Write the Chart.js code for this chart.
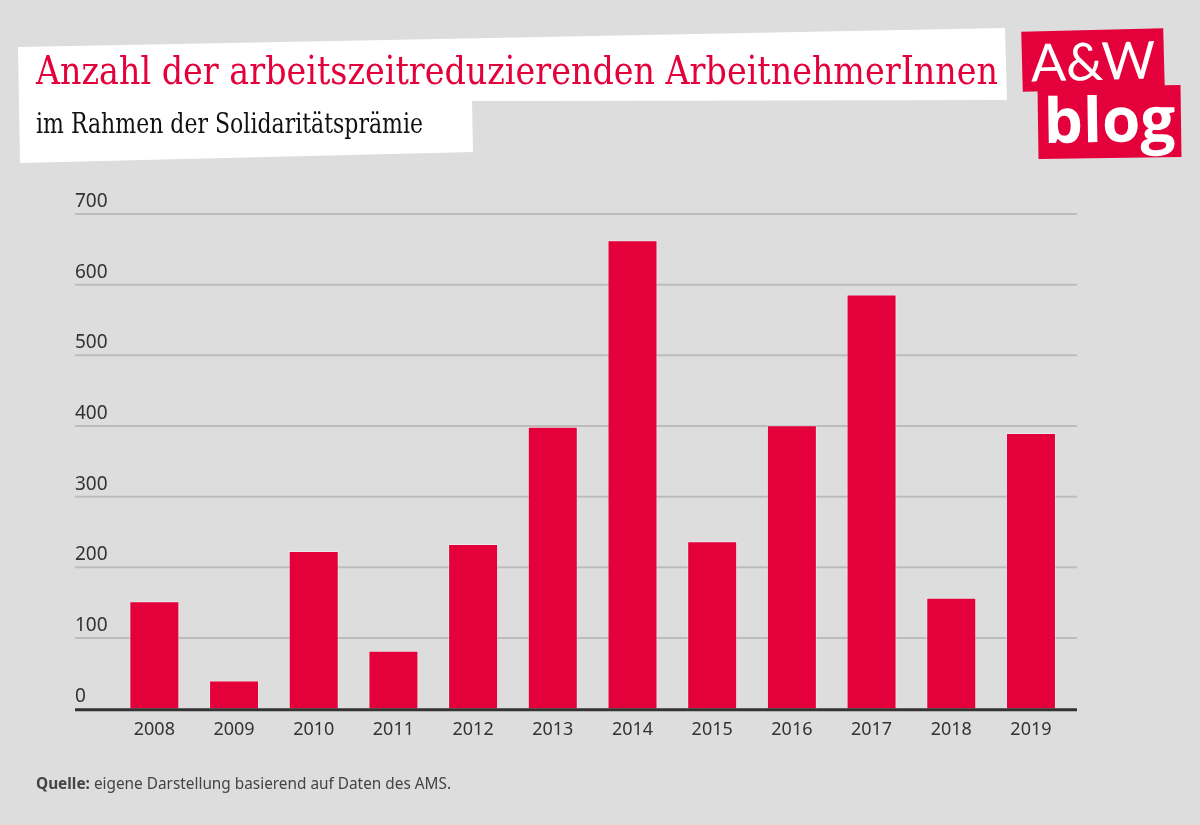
<!DOCTYPE html>
<html>
<head>
<meta charset="utf-8">
<script src="https://cdn.jsdelivr.net/npm/chart.js@4"></script>
<style>
  html, body { margin: 0; padding: 0; }
  body { width: 1200px; height: 825px; background: #dddddd; position: relative; overflow: hidden; }
  #chartCanvas { position: absolute; left: 0; top: 0; }
  .band {
    position: absolute; left: 0; top: 0; width: 1200px; height: 200px; background: #ffffff;
    clip-path: polygon(18px 47px, 1005px 28px, 1007px 100px, 472px 101px, 473px 152px, 20px 163px);
  }
  .fit { position: absolute; white-space: nowrap; transform-origin: 0 0; }
  #title { left: 36px; top: 48px; font-family: "DejaVu Serif", serif; font-size: 39px; color: #e4003a; }
  #subtitle { left: 36px; top: 107px; font-family: "DejaVu Serif", serif; font-size: 28px; color: #111; }
  .logo { position: absolute; background: #e4003a; color: #fff; text-align: center; }
  #logoTop { left: 1022px; top: 30px; width: 142px; height: 60px; transform: rotate(-1.5deg);
    font-family: "Lato", sans-serif; font-size: 52px; line-height: 60px; font-weight: 400; }
  #logoBottom { left: 1038px; top: 86px; width: 143px; height: 72px; transform: rotate(-0.8deg);
    font-family: "Open Sans", sans-serif; font-size: 62px; line-height: 64px; font-weight: 700; }
  #source { left: 36px; top: 772px; font-family: "Noto Sans", sans-serif; font-size: 15.5px; color: #444; }
</style>
</head>
<body>
<canvas id="chartCanvas" width="1200" height="825"></canvas>
<div class="band"></div>
<div id="title" class="fit">Anzahl der arbeitszeitreduzierenden ArbeitnehmerInnen</div>
<div id="subtitle" class="fit">im Rahmen der Solidaritätsprämie</div>
<div id="logoTop" class="logo">A&amp;W</div>
<div id="logoBottom" class="logo">blog</div>
<div id="source" class="fit"><b>Quelle:</b> eigene Darstellung basierend auf Daten des AMS.</div>
<script>
const jahre = ["2008", "2009", "2010", "2011", "2012", "2013", "2014", "2015", "2016", "2017", "2018", "2019"];
const anzahl = [152, 40, 223, 82, 233, 399, 663, 237, 401, 586, 157, 390];
const yTicks = [0, 100, 200, 300, 400, 500, 600, 700];

// fit header text to the widths in the original
function fitText(id, width) {
    const el = document.getElementById(id);
    const w = el.getBoundingClientRect().width;
    el.style.transform = `scaleX(${width / w})`;
}
fitText("title", 962);
fitText("subtitle", 387);
fitText("source", 415);

const gridLeft = 75;
const gridRight = 1077;

const gridPlugin = {
    id: "gridPlugin",
    beforeDatasetsDraw(chart) {
        const ctx = chart.ctx;
        const y = chart.scales.y;
        ctx.save();
        ctx.strokeStyle = "#bcbcbc";
        ctx.lineWidth = 2;
        ctx.fillStyle = "#333333";
        ctx.font = "19px 'Noto Sans', sans-serif";
        ctx.textAlign = "left";
        ctx.textBaseline = "alphabetic";
        yTicks.forEach(v => {
            const py = y.getPixelForValue(v);
            if (v !== 0) {
                ctx.beginPath();
                ctx.moveTo(gridLeft, py);
                ctx.lineTo(gridRight, py);
                ctx.stroke();
            }
            ctx.fillText(String(v), gridLeft, py - 7);
        });
        ctx.restore();
    },
    afterDatasetsDraw(chart) {
        const ctx = chart.ctx;
        const py = chart.scales.y.getPixelForValue(0);
        ctx.save();
        ctx.strokeStyle = "#333333";
        ctx.lineWidth = 3;
        ctx.beginPath();
        ctx.moveTo(gridLeft, py + 1);
        ctx.lineTo(gridRight, py + 1);
        ctx.stroke();
        ctx.restore();
    }
};

new Chart(document.getElementById("chartCanvas"), {
    type: "bar",
    data: {
        labels: jahre,
        datasets: [{
            data: anzahl,
            backgroundColor: "#e4003a",
            borderColor: "rgba(255,255,255,0.35)",
            borderWidth: 1,
            barPercentage: 0.627,
            categoryPercentage: 1
        }]
    },
    options: {
        responsive: false,
        animation: false,
        layout: { padding: { left: 114.5, right: 129.2, top: 214, bottom: 76.3 } },
        plugins: { legend: { display: false }, tooltip: { enabled: false } },
        scales: {
            x: {
                grid: { display: false, drawTicks: false },
                border: { display: false },
                ticks: { color: "#333333", font: { family: "'Noto Sans', sans-serif", size: 18 }, padding: 10 },
                afterFit: (scale) => { scale.height = 40; }
            },
            y: {
                display: false,
                min: 0,
                max: 700
            }
        }
    },
    plugins: [gridPlugin]
});
</script>
</body>
</html>
